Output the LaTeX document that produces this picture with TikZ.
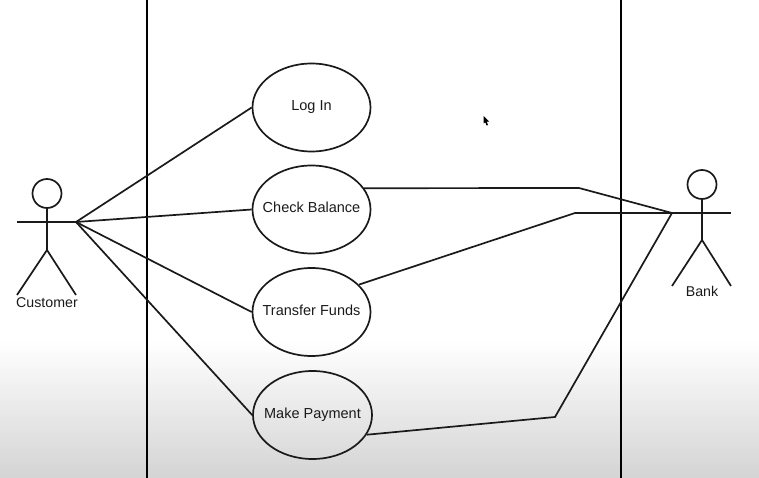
\documentclass[tikz,border=0pt]{standalone}
\usepackage{fontspec}
\setmainfont{Liberation Sans}
\usetikzlibrary{calc, shapes.geometric}
\definecolor{lineInk}{HTML}{1A1A1A}
\definecolor{fadeGray}{HTML}{D4D4D4}
\newcommand{\uctext}[1]{\makebox[0pt]{#1}}
\tikzset{
    usecase/.style={ellipse, draw=lineInk, line width=1.7pt, minimum width=118pt, minimum height=88pt, inner sep=0pt, text height=9pt, text depth=3pt, font=\fontsize{14.5}{16}\selectfont, text=lineInk},
    actorhead/.style={circle, draw=lineInk, line width=1.7pt, minimum size=29pt, inner sep=0pt},
    actorname/.style={inner sep=0pt, font=\fontsize{14.2}{16}\selectfont, text=lineInk},
    link/.style={draw=lineInk, line width=1.7pt, line join=miter},
    border/.style={draw=black, line width=2pt}
}

\begin{document}
\begin{tikzpicture}[x=1pt, y=-1pt]
    \useasboundingbox (0,0) rectangle (759,478);
    \shade[top color=white, bottom color=fadeGray] (0,340) rectangle (759,478);

    % system boundary
    \coordinate (lefttop) at (146.5,0);
    \coordinate (leftbot) at (146.5,478);
    \coordinate (righttop) at (620.5,0);
    \coordinate (rightbot) at (620.5,478);
    \draw[border] (lefttop) -- (leftbot);
    \draw[border] (righttop) -- (rightbot);

    % use cases
    \node[usecase, yshift=-0.5pt] (login) at (311.5,107) {\uctext{Log In}};
    \node[usecase] (balance) at (311.5,209.5) {\uctext{Check Balance}};
    \node[usecase] (transfer) at (311.5,312) {\uctext{Transfer Funds}};
    \node[usecase, minimum width=119pt] (payment) at (312.5,415) {\uctext{Make Payment}};

    % customer
    \node[actorhead] (custhead) at (47,193.5) {};
    \coordinate (custhip) at (47,250);
    \coordinate (custhand) at (76,222);
    \coordinate (custarm) at (17,222);
    \draw[link] (custhead) -- (custhip);
    \draw[link] (custarm) -- (custhand);
    \coordinate (custfootl) at (17,295);
    \coordinate (custfootr) at (76,295);
    \draw[link] (custfootl) -- (custhip) -- (custfootr);
    \node[actorname] (custname) at (47,303) {Customer};

    % bank
    \node[actorhead] (bankhead) at (702,184.5) {};
    \coordinate (bankhip) at (702,240);
    \coordinate (bankhand) at (672,213);
    \coordinate (bankarm) at (731,213);
    \draw[link] (bankhead) -- (bankhip);
    \draw[link] (bankhand) -- (bankarm);
    \coordinate (bankfootl) at (672,286);
    \coordinate (bankfootr) at (731,286);
    \draw[link] (bankfootl) -- (bankhip) -- (bankfootr);
    \node[actorname] (bankname) at (702,291) {Bank};

    % connectors
    \foreach \uc in {login,balance,transfer,payment}
        \draw[link] (custhand) -- (\uc.west);
    \draw[link] (balance.22) -- (579,188) -- (bankhand);
    \draw[link] (transfer.30) -- (575,213) -- (bankhand);
    \draw[link] (payment.-20) -- (555,417) -- (bankhand);

    % pointer
    \fill[black] (483.5,116) -- (483.5,123.5) -- (485.3,122.3) -- (486.5,125.5) -- (488,125) -- (486.8,121.8) -- (489,121.5) -- cycle;
\end{tikzpicture}
\end{document}
